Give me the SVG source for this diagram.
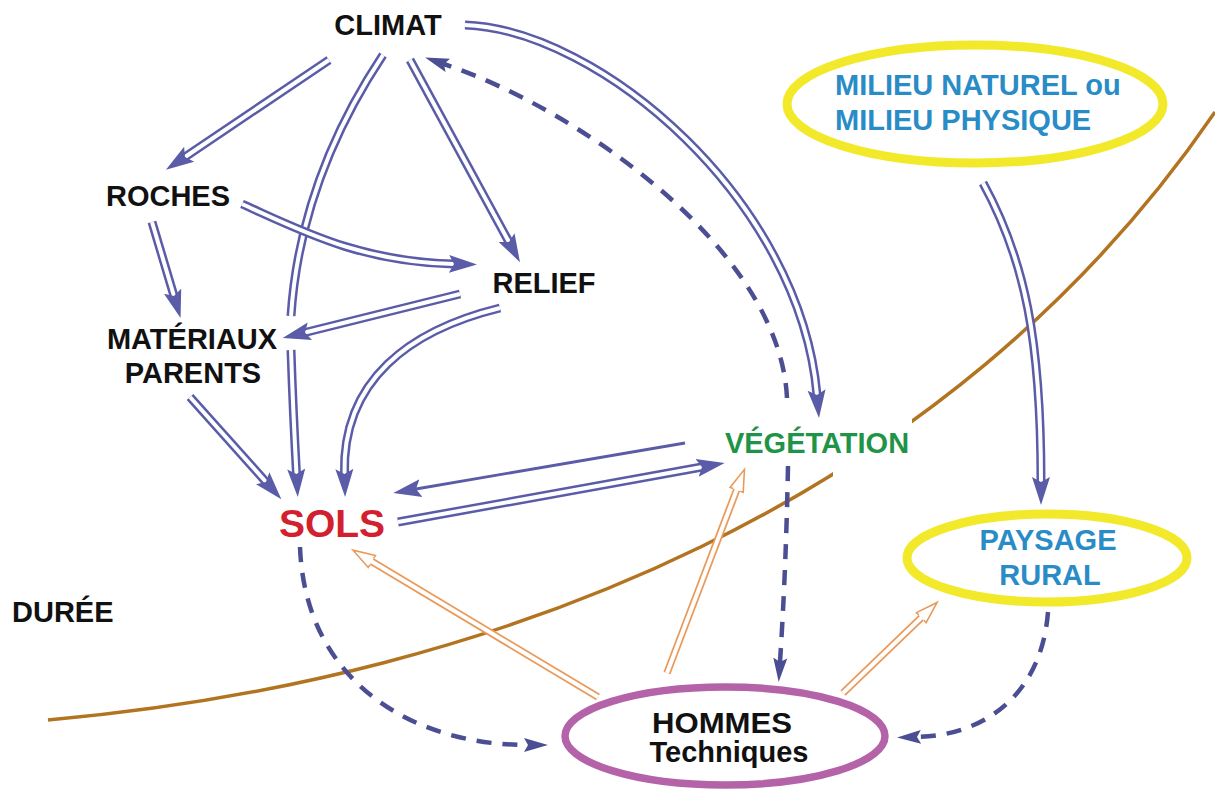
<svg xmlns="http://www.w3.org/2000/svg" width="1215" height="791" viewBox="0 0 1215 791">
<style>
.t{font-family:"Liberation Sans",Arial,sans-serif;font-weight:bold;font-size:29px;fill:#111;text-anchor:middle}
.o{fill:none;stroke:#5a5ca8;stroke-width:9}
.i{fill:none;stroke:#fff;stroke-width:4;marker-end:url(#ab)}
.n{fill:none;stroke:#fff;stroke-width:4}
.s{fill:none;stroke:#5a5ca8;stroke-width:2.8;marker-end:url(#ab)}
.oo{fill:none;stroke:#e99a5b;stroke-width:7.5}
.io{fill:none;stroke:#fff;stroke-width:4;marker-end:url(#ao)}
.d{fill:none;stroke:#4b4e92;stroke-width:4.5;stroke-dasharray:15 11;marker-end:url(#ad)}
</style>
<defs>
<marker id="ab" markerUnits="userSpaceOnUse" orient="auto" viewBox="0 -10 30 20" markerWidth="30" markerHeight="20" refX="5" refY="0"><path d="M0,-9 L28,0 L0,9 L5,0 Z" fill="#5a5ca8"/></marker>
<marker id="ao" markerUnits="userSpaceOnUse" orient="auto" viewBox="-1 -9 26 18" markerWidth="26" markerHeight="18" refX="1" refY="0"><path d="M0,-3.75 L0,-7 L22,0 L0,7 L0,3.75" fill="#fff" stroke="#e99a5b" stroke-width="1.6"/></marker>
<marker id="ad" markerUnits="userSpaceOnUse" orient="auto" viewBox="0 -8 24 16" markerWidth="24" markerHeight="16" refX="4" refY="0"><path d="M0,-7 L24,0 L0,7 L4,0 Z" fill="#4b4e92"/></marker>
<mask id="gap" maskUnits="userSpaceOnUse" x="0" y="0" width="1215" height="791"><rect width="1215" height="791" fill="#fff"/><rect x="833" y="395" width="79" height="90" fill="#000"/></mask>
</defs>
<rect width="1215" height="791" fill="#fff"/>
<g id="duree-line">
<path d="M48,720 C500,680 950,500 1215,112" fill="none" stroke="#b27420" stroke-width="3.5" mask="url(#gap)"/>
</g>
<g id="connectors">
<path class="o" d="M329,60 L185,157"/><path class="i" d="M329,60 L185,157"/>
<path class="o" d="M383,55 Q300,180 291,316"/><path class="n" d="M383,55 Q300,180 291,316"/>
<path class="o" d="M291,350 Q293,410 296.5,474"/><path class="i" d="M291,350 Q293,410 296.5,474"/>
<path class="o" d="M410,60 L509,242"/><path class="i" d="M410,60 L509,242"/>
<path class="o" d="M465,25 C600,30 800,200 817,395"/><path class="i" d="M465,25 C600,30 800,200 817,395"/>
<path class="o" d="M242,204 C300,230 360,262 454,264"/><path class="i" d="M242,204 C300,230 360,262 454,264"/>
<path class="o" d="M152,222 L174,296"/><path class="i" d="M152,222 L174,296"/>
<path class="o" d="M460,294 L305,332.5"/><path class="i" d="M460,294 L305,332.5"/>
<path class="o" d="M500,308 C410,330 342,380 344.5,474"/><path class="i" d="M500,308 C410,330 342,380 344.5,474"/>
<path class="o" d="M190,397 L266,482"/><path class="i" d="M190,397 L266,482"/>
<path class="s" d="M685,443 L416,489"/>
<path class="o" d="M398,522 L702,467"/><path class="i" d="M398,522 L702,467"/>
<path class="o" d="M983,183 C1025,260 1041,340 1041,482"/><path class="i" d="M983,183 C1025,260 1041,340 1041,482"/>
<path class="oo" d="M598,697 L371,561"/><path class="io" d="M598,697 L371,561"/>
<path class="oo" d="M667,673 L737,489"/><path class="io" d="M667,673 L737,489"/>
<path class="oo" d="M843,693 L922,617"/><path class="io" d="M843,693 L922,617"/>
<path class="d" d="M787,398 C780,250 580,110 444,64"/>
<path class="d" d="M788,466 Q786,570 780,662"/>
<path class="d" d="M300,547 C305,680 410,745 528,745"/>
<path class="d" d="M1048,612 C1042,690 990,735 917,737"/>
</g>
<g id="climat"><text class="t" x="388" y="35">CLIMAT</text></g>
<g id="roches"><text class="t" x="168" y="206">ROCHES</text></g>
<g id="relief"><text class="t" x="544" y="293">RELIEF</text></g>
<g id="materiaux"><text class="t" x="192" y="349">MATÉRIAUX</text><text class="t" x="193" y="383">PARENTS</text></g>
<g id="sols"><text class="t" x="332" y="537" style="font-size:39px;fill:#d3202f">SOLS</text></g>
<g id="vegetation"><text class="t" x="817" y="453" style="fill:#1f9447">VÉGÉTATION</text></g>
<g id="duree"><text class="t" x="12" y="622" style="text-anchor:start">DURÉE</text></g>
<g id="milieu">
<ellipse cx="975" cy="104" rx="188" ry="59" fill="none" stroke="#f2e92a" stroke-width="9"/>
<text class="t" x="835" y="95" style="text-anchor:start;fill:#2a8cc6">MILIEU NATUREL ou</text>
<text class="t" x="835" y="130" style="text-anchor:start;fill:#2a8cc6">MILIEU PHYSIQUE</text>
</g>
<g id="paysage">
<ellipse cx="1047" cy="558" rx="140" ry="44" fill="none" stroke="#f2e92a" stroke-width="9"/>
<text class="t" x="1048" y="550" style="fill:#2a8cc6">PAYSAGE</text>
<text class="t" x="1050" y="585" style="fill:#2a8cc6">RURAL</text>
</g>
<g id="hommes">
<ellipse cx="725" cy="736" rx="160" ry="49" fill="none" stroke="#b463a8" stroke-width="7.5"/>
<text class="t" x="722" y="733" textLength="140" lengthAdjust="spacingAndGlyphs">HOMMES</text>
<text class="t" x="729" y="762">Techniques</text>
</g>
</svg>
